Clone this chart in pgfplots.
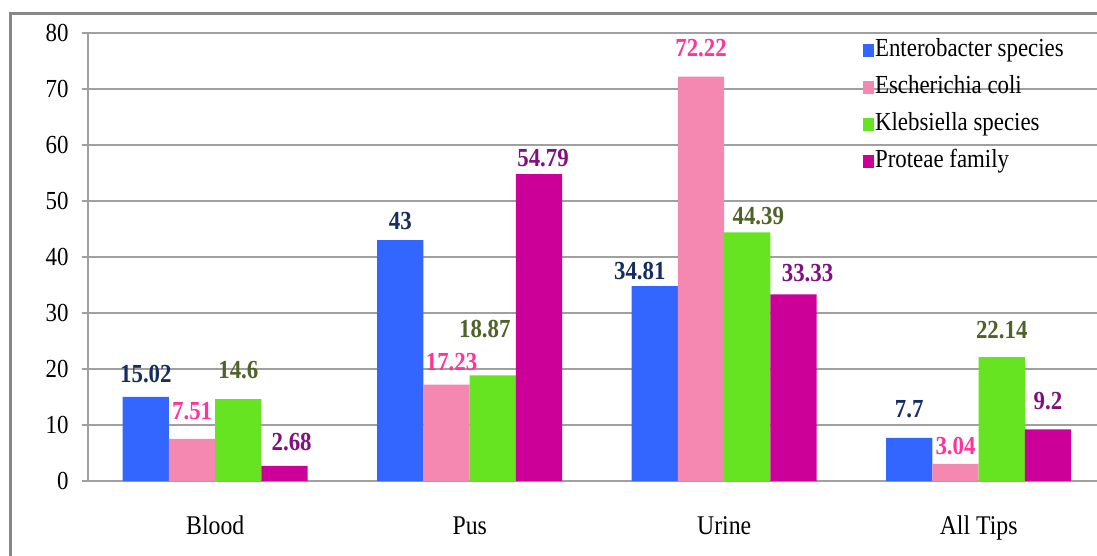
\documentclass[border=0pt]{standalone}
\usepackage{fontspec}
\setmainfont{Liberation Serif}[FakeStretch=0.88]
\usepackage{pgfplots}
\usepackage{pgfplotstable}
\pgfplotsset{compat=1.18}

\definecolor{cEnt}{RGB}{51,102,255}
\definecolor{cEco}{RGB}{244,136,176}
\definecolor{cKle}{RGB}{102,228,34}
\definecolor{cPro}{RGB}{204,0,153}
\definecolor{lEnt}{RGB}{22,45,95}
\definecolor{lEco}{RGB}{255,51,153}
\definecolor{lKle}{RGB}{79,98,40}
\definecolor{lPro}{RGB}{128,16,128}
\definecolor{gridgray}{RGB}{160,160,160}
\definecolor{framegray}{RGB}{136,136,136}

% x: category (0 Blood, 1 Pus, 2 Urine, 3 All Tips); off/dx: label offsets in pt
\pgfplotstableread{
x y off dx
0 15.02 14 0
1 43 11 0
2 34.81 7 -15
3 7.7 20 0
}\enterobacter
\pgfplotstableread{
x y off dx
0 7.51 19 0
1 17.23 14 5
2 72.22 20 0
3 3.04 9 0
}\ecoli
\pgfplotstableread{
x y off dx
0 14.6 21 0
1 18.87 38 -8
2 44.39 8 11
3 22.14 19 0
}\klebsiella
\pgfplotstableread{
x y off dx
0 2.68 15 7
1 54.79 8 4
2 33.33 13 14
3 9.2 20 0
}\proteae

\begin{document}
\begin{tikzpicture}
\path[use as bounding box] (-88pt,-74pt) rectangle (1009pt,481pt);
\draw[framegray, line width=3pt] (-77pt,-80pt) -- (-77pt,467pt) -- (1015pt,467pt);
\begin{axis}[
  scale only axis,
  width=1009pt, height=448pt,
  xmin=-0.5, xmax=3.465,
  ymin=0, ymax=80,
  ytick={0,10,...,80},
  xtick={0,1,2,3},
  xticklabels={Blood,Pus,Urine,All Tips},
  axis x line*=bottom,
  axis y line*=left,
  axis line style={gridgray, line width=1.2pt},
  every outer x axis line/.append style={-},
  every outer y axis line/.append style={-},
  ymajorgrids,
  major grid style={gridgray, line width=1.2pt},
  tick align=outside,
  major tick length=6pt,
  tick style={gridgray, line width=1.2pt},
  xtick style={draw=none},
  extra x ticks={-0.5,0.5,1.5,2.5},
  extra x tick labels={},
  extra x tick style={major tick length=8pt, tick style={gridgray, line width=1.2pt}, grid=none},
  /pgf/number format/assume math mode=true,
  yticklabel style={font=\fontsize{26}{30}\selectfont, xshift=-10pt},
  xticklabel style={font=\fontsize{27}{31}\selectfont, anchor=base, yshift=-47pt},
  ybar=0pt,
  bar width=46.25pt,
  nodes near coords={\pgfmathprintnumber[fixed,precision=2,assume math mode=true]{\pgfplotspointmeta}},
  visualization depends on={\thisrow{off} \as \offy},
  visualization depends on={\thisrow{dx} \as \offx},
  every node near coord/.append style={font=\bfseries\fontsize{26}{30}\selectfont, anchor=base, inner sep=0pt, yshift=\offy pt, xshift=\offx pt},
  legend style={draw=none, fill=none, at={(0.765,0.994)}, anchor=north west,
    font=\fontsize{26}{30}\selectfont, row sep=11pt,
    nodes={inner sep=1pt, text height=18pt, text depth=6pt},
    /tikz/every even column/.append style={column sep=3pt}},
  legend cell align=left,
  legend image code/.code={\fill[#1, draw=none] (0pt,-6.5pt) rectangle (11pt,6.5pt);},
]
\addplot[fill=cEnt, draw=none, every node near coord/.append style={text=lEnt}] table[x=x,y=y] {\enterobacter};
\addplot[fill=cEco, draw=none, every node near coord/.append style={text=lEco}] table[x=x,y=y] {\ecoli};
\addplot[fill=cKle, draw=none, every node near coord/.append style={text=lKle}] table[x=x,y=y] {\klebsiella};
\addplot[fill=cPro, draw=none, every node near coord/.append style={text=lPro}] table[x=x,y=y] {\proteae};
\legend{Enterobacter species, Escherichia coli, Klebsiella species, Proteae family}
\end{axis}
\end{tikzpicture}
\end{document}
